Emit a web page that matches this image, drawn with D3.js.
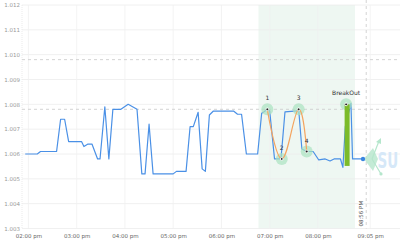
<!DOCTYPE html>
<html><head><meta charset="utf-8">
<script src="https://cdn.jsdelivr.net/npm/d3@7"></script>
<style>
html,body{margin:0;padding:0;background:#fff;}
svg{display:block;font-family:"DejaVu Sans",sans-serif;}
</style></head>
<body><svg id="c" width="400" height="246"></svg>
<script>
// ---- data ----
const times = ["13:56","14:11","14:15","14:35","14:40","14:45","14:50","15:06","15:09","15:14","15:19","15:26","15:29","15:35","15:40","15:45","15:55","16:04","16:15","16:21","16:25","16:30","16:35","17:00","17:04","17:16","17:21","17:25","17:31","17:36","17:40","17:45","17:50","18:15","18:20","18:25","18:31","18:45","18:50","18:53","18:57","19:00","19:06","19:14","19:19","19:34","19:36","19:40","19:46","19:54","20:01","20:09","20:15","20:20","20:28","20:31","20:34","20:41","20:43","20:56"];
const values = [1.0060,1.0060,1.0061,1.0061,1.0074,1.0074,1.0065,1.0065,1.0063,1.0064,1.0064,1.0058,1.0058,1.0079,1.0058,1.0078,1.0078,1.0080,1.0078,1.0052,1.0052,1.0072,1.0052,1.0052,1.0053,1.0053,1.0071,1.0071,1.00768,1.0054,1.0053,1.00757,1.00773,1.00773,1.0076,1.0076,1.0060,1.0060,1.00764,1.0077,1.0078,1.00773,1.0058,1.0058,1.0077,1.00774,1.0078,1.0062,1.0061,1.0061,1.00576,1.0058,1.00572,1.0058,1.0058,1.00546,1.0071,1.00804,1.0058,1.0058];
const patternLabels = ["1","2","3","4"];
const patternTimes = ["18:57","19:15","19:36","19:46"];
const patternValues = [1.0078,1.0058,1.0078,1.0061];
const breakoutLabel = "BreakOut";
const breakoutTime = "20:35";
const breakoutValue = 1.0080;
const breakoutBarLow = 1.00552;
const zoneStart = "18:46", zoneEnd = "20:46";
const levelLines = [1.0098, 1.0078];
const nowTime = "21:00";
const markerLabel = "08:56 PM";
const watermark = "SU";
const yTicks = [1.003,1.004,1.005,1.006,1.007,1.008,1.009,1.010,1.011,1.012];
const xTickTimes = ["14:00","15:00","16:00","17:00","18:00","19:00","20:00","21:05"];
const domainStart = "13:52", domainEnd = "21:42";

// ---- helpers ----
const T = s => { const [h,m] = s.split(":").map(Number); return new Date(2024,0,1,h,m); };
const pL = 22, pR = 400, pT = 5, pB = 228.5;
const x = d3.scaleTime().domain([T(domainStart), T(domainEnd)]).range([pL, pR]);
const y = d3.scaleLinear().domain([1.003, 1.012]).range([pB, pT]);
const svg = d3.select("#c");

// zone
svg.append("rect").attr("x", x(T(zoneStart))).attr("y", pT).attr("width", x(T(zoneEnd)) - x(T(zoneStart)))
  .attr("height", pB - pT).attr("fill", "#eef7f2");

// grid
svg.append("g").selectAll("line").data(yTicks).join("line")
  .attr("x1", pL).attr("x2", pR).attr("y1", d => y(d)).attr("y2", d => y(d))
  .attr("stroke", "#ececec").attr("stroke-width", 0.8);
svg.append("g").selectAll("line").data(xTickTimes).join("line")
  .attr("x1", d => x(T(d))).attr("x2", d => x(T(d))).attr("y1", pT).attr("y2", pB)
  .attr("stroke", "#f0f0f0").attr("stroke-width", 0.8);
svg.append("line").attr("x1", pL).attr("x2", pL).attr("y1", pT).attr("y2", pB)
  .attr("stroke", "#e6e6e6").attr("stroke-width", 0.8).attr("stroke-dasharray", "1,1");

// y axis labels
const yAxis = d3.axisLeft(y).tickValues(yTicks).tickFormat(d3.format(".3f")).tickSize(0).tickPadding(2);
const ya = svg.append("g").attr("transform", `translate(${pL},0)`).call(yAxis);
ya.select(".domain").remove();
ya.selectAll("text").attr("font-size", 5.5).attr("fill", "#999").attr("font-family", "DejaVu Sans");

// x axis labels
const fmt = d3.timeFormat("%I:%M %p");
const xAxis = d3.axisBottom(x).tickValues(xTickTimes.map(T)).tickFormat(d => fmt(d).toLowerCase()).tickSize(0).tickPadding(6);
const xa = svg.append("g").attr("transform", `translate(0,${pB})`).call(xAxis);
xa.select(".domain").remove();
xa.selectAll("text").attr("font-size", 5.5).attr("fill", "#666").attr("font-family", "DejaVu Sans");

// level lines
svg.append("g").selectAll("line").data(levelLines).join("line")
  .attr("x1", pL).attr("x2", pR).attr("y1", d => y(d)).attr("y2", d => y(d))
  .attr("stroke", "#cfcfcf").attr("stroke-width", 0.9).attr("stroke-dasharray", "3,3");

// now line
svg.append("line").attr("x1", x(T(nowTime))).attr("x2", x(T(nowTime))).attr("y1", 0).attr("y2", pB)
  .attr("stroke", "#cfcfcf").attr("stroke-width", 0.9).attr("stroke-dasharray", "3,3");

// marker label rotated
const lastX = x(T(times[times.length-1]));
svg.append("text").attr("transform", `translate(${lastX - 0.5},${pB - 2}) rotate(-90)`)
  .attr("font-size", 5.5).attr("fill", "#555").text(markerLabel);

// watermark
const lastY = y(values[values.length-1]);
svg.append("text").attr("transform", `translate(${lastX + 14.5},${lastY + 9}) scale(1,1.55)`)
  .attr("font-size", 13.5).attr("font-weight", "bold")
  .attr("fill", "#d6e8f8").attr("font-family", "DejaVu Sans").text(watermark);
const cx = lastX + 9, cy = lastY;
svg.append("path").attr("d", `M${cx-8},${cy} L${cx+1},${cy-11} L${cx+6},${cy} L${cx+1},${cy+12} Z`)
  .attr("fill", "#b5e6cc").attr("opacity", 0.8);
svg.append("line").attr("x1", cx).attr("y1", cy).attr("x2", cx + 7).attr("y2", cy - 18)
  .attr("stroke", "#b5e6cc").attr("stroke-width", 1.2);
svg.append("path").attr("d", `M${cx+9},${cy-21} L${cx+4},${cy-17} L${cx+9},${cy-15} Z`).attr("fill", "#b5e6cc");
svg.append("line").attr("x1", cx).attr("y1", cy).attr("x2", cx + 9).attr("y2", cy + 15)
  .attr("stroke", "#b5e6cc").attr("stroke-width", 1.2);
svg.append("circle").attr("cx", cx + 9).attr("cy", cy + 15).attr("r", 1.6).attr("fill", "#b5e6cc");

// main line
const pts = times.map((t,i) => [x(T(t)), y(values[i])]);
svg.append("path").attr("d", d3.line()(pts)).attr("fill", "none")
  .attr("stroke", "#4a90e6").attr("stroke-width", 1.2).attr("stroke-linejoin", "round");
svg.append("circle").attr("cx", lastX).attr("cy", lastY).attr("r", 2.2).attr("fill", "#3a86e0");

// pattern halos
const pp = patternTimes.map((t,i) => [x(T(t)), y(patternValues[i])]);
const bx = x(T(breakoutTime)), by = y(breakoutValue);
svg.append("g").selectAll("circle").data([...pp, [bx, by]]).join("circle")
  .attr("cx", d => d[0]).attr("cy", d => d[1]).attr("r", 6).attr("fill", "#a9e2c0").attr("opacity", 0.7);

// breakout bar
svg.append("rect").attr("x", bx - 1.5).attr("width", 5).attr("y", by).attr("height", y(breakoutBarLow) - by)
  .attr("fill", "#7cbb2a");

// orange curve
svg.append("path").attr("d", d3.line().curve(d3.curveCardinal.tension(-0.2))(pp)).attr("fill", "none")
  .attr("stroke", "#f4a460").attr("stroke-width", 1.2);

// point dots
svg.append("g").selectAll("circle").data([...pp, [bx, by]]).join("circle")
  .attr("cx", d => d[0]).attr("cy", d => d[1]).attr("r", 1.4).attr("fill", "#222")
  .attr("stroke", "#fff").attr("stroke-width", 0.9);

// labels
svg.append("g").selectAll("text").data(patternLabels).join("text")
  .attr("x", (d,i) => pp[i][0]).attr("y", (d,i) => pp[i][1] - 9).attr("text-anchor", "middle")
  .attr("font-size", 6).attr("fill", "#333").text(d => d);
svg.append("text").attr("x", bx).attr("y", by - 9).attr("text-anchor", "middle")
  .attr("font-size", 6).attr("fill", "#333").text(breakoutLabel);
</script></body></html>
